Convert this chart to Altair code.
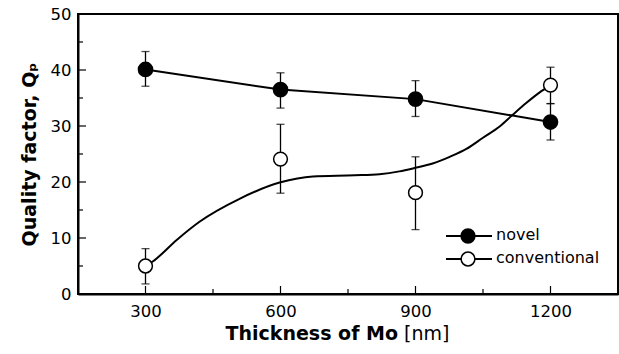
import altair as alt
import pandas as pd

# ---- data ----
thickness = [300, 600, 900, 1200]
novel_q = [40.1, 36.5, 34.8, 30.7]
novel_lo = [37.1, 33.2, 31.7, 27.5]
novel_hi = [43.3, 39.5, 38.1, 34.0]
conv_q = [5.0, 24.1, 18.1, 37.3]
conv_lo = [1.8, 18.0, 11.5, 34.0]
conv_hi = [8.1, 30.3, 24.5, 40.5]
# smooth guide curve of the conventional series
fit_x = [300, 316, 370, 420, 509, 598, 672, 765, 820, 864, 898, 938, 976, 1013,
         1050, 1087, 1116, 1146, 1176, 1200]
fit_y = [5.0, 5.8, 9.7, 12.9, 17.0, 19.9, 21.0, 21.2, 21.4, 21.9, 22.5, 23.3, 24.5, 25.9,
         27.9, 29.9, 32.0, 34.1, 36.0, 37.3]
x_major = [300, 600, 900, 1200]
x_minor = [450, 750, 1050]
y_major = [0, 10, 20, 30, 40, 50]
y_minor = [5, 15, 25, 35, 45]

FONT = "DejaVu Sans"

novel = pd.DataFrame({"x": thickness, "q": novel_q, "lo": novel_lo, "hi": novel_hi})
conv = pd.DataFrame({"x": thickness, "q": conv_q, "lo": conv_lo, "hi": conv_hi})
fit = pd.DataFrame({"x": fit_x, "q": fit_y})

xs = alt.Scale(domain=[150, 1350], nice=False, zero=False)
ys = alt.Scale(domain=[0, 50], nice=False)

X = alt.X("x:Q", scale=xs,
          axis=alt.Axis(values=x_major, format="d", title=None, ticks=False, grid=False,
                        labelPadding=9, labelFontSize=16.5, labelFont=FONT,
                        labelColor="black", domainColor="black", domainWidth=2))
Y = alt.Y("q:Q", scale=ys,
          axis=alt.Axis(values=y_major, format="d", title="Quality factor, Qₚ", ticks=False, grid=False,
                        labelPadding=7, labelFontSize=16.5, labelFont=FONT,
                        labelColor="black", domainColor="black", domainWidth=2,
                        titleFont=FONT, titleFontSize=19, titleFontWeight="bold",
                        titleColor="black", titlePadding=11))

base_n = alt.Chart(novel)
base_c = alt.Chart(conv)

novel_line = base_n.mark_line(color="black", strokeWidth=2).encode(x=X, y=Y)
conv_line = alt.Chart(fit).mark_line(color="black", strokeWidth=2, interpolate="monotone").encode(
    x=alt.X("x:Q", scale=xs), y=alt.Y("q:Q", scale=ys))

def errbars(base):
    r = base.mark_rule(color="black", strokeWidth=1.3).encode(
        x=alt.X("x:Q", scale=xs), y=alt.Y("lo:Q", scale=ys), y2="hi:Q")
    t1 = base.mark_tick(color="black", orient="horizontal", size=8, thickness=1.3).encode(
        x=alt.X("x:Q", scale=xs), y=alt.Y("lo:Q", scale=ys))
    t2 = base.mark_tick(color="black", orient="horizontal", size=8, thickness=1.3).encode(
        x=alt.X("x:Q", scale=xs), y=alt.Y("hi:Q", scale=ys))
    return r + t1 + t2

novel_pts = base_n.mark_point(shape="circle", filled=True, fill="black", stroke="black",
                              strokeWidth=1.5, size=200, opacity=1).encode(
    x=alt.X("x:Q", scale=xs), y=alt.Y("q:Q", scale=ys))
conv_pts = base_c.mark_point(shape="circle", filled=True, fill="white", stroke="black",
                             strokeWidth=1.5, size=190, opacity=1).encode(
    x=alt.X("x:Q", scale=xs), y=alt.Y("q:Q", scale=ys))

# inward ticks
xt_major = alt.Chart(pd.DataFrame({"v": x_major})).mark_rule(color="black", strokeWidth=1.2).encode(
    x=alt.X("v:Q", scale=xs), y=alt.value(280), y2=alt.value(272))
xt_minor = alt.Chart(pd.DataFrame({"v": x_minor})).mark_rule(color="black", strokeWidth=1.2).encode(
    x=alt.X("v:Q", scale=xs), y=alt.value(280), y2=alt.value(275))
yt_major = alt.Chart(pd.DataFrame({"v": y_major})).mark_rule(color="black", strokeWidth=1.2).encode(
    y=alt.Y("v:Q", scale=ys), x=alt.value(0), x2=alt.value(8))
yt_minor = alt.Chart(pd.DataFrame({"v": y_minor})).mark_rule(color="black", strokeWidth=1.2).encode(
    y=alt.Y("v:Q", scale=ys), x=alt.value(0), x2=alt.value(5))

# legend
one = pd.DataFrame({"a": [0]})
def legend_row(label, fill, ypix):
    ln = alt.Chart(one).mark_rule(color="black", strokeWidth=2).encode(
        x=alt.value(368), x2=alt.value(414), y=alt.value(ypix))
    pt = alt.Chart(one).mark_point(shape="circle", filled=True, fill=fill, stroke="black",
                                   strokeWidth=1.5, size=190, opacity=1).encode(
        x=alt.value(390), y=alt.value(ypix))
    tx = alt.Chart(pd.DataFrame({"t": [label]})).mark_text(
        align="left", baseline="middle", font=FONT, fontSize=16, color="black").encode(
        text="t:N", x=alt.value(418), y=alt.value(ypix - 1))
    return ln + pt + tx

leg = legend_row("novel", "black", 222) + legend_row("conventional", "white", 245)

# x title: bold part + normal unit
xt_bold = alt.Chart(pd.DataFrame({"t": ["Thickness of Mo"]})).mark_text(
    align="right", baseline="middle", font=FONT, fontSize=19, fontWeight="bold", color="black").encode(
    text="t:N", x=alt.value(320), y=alt.value(320))
xt_unit = alt.Chart(pd.DataFrame({"t": ["[nm]"]})).mark_text(
    align="left", baseline="middle", font=FONT, fontSize=19, color="black").encode(
    text="t:N", x=alt.value(326), y=alt.value(320))

chart = alt.layer(
    novel_line, conv_line,
    errbars(base_n), errbars(base_c),
    novel_pts, conv_pts,
    xt_major, xt_minor, yt_major, yt_minor,
    leg, xt_bold, xt_unit,
).properties(
    width=540, height=280,
    autosize=alt.AutoSizeParams(type="none"),
    padding={"left": 78, "top": 14, "right": 1, "bottom": 60},
    background="white",
).configure_view(stroke="black", strokeWidth=2)

chart.save("out.html", embed_options={"renderer": "svg", "actions": False})
